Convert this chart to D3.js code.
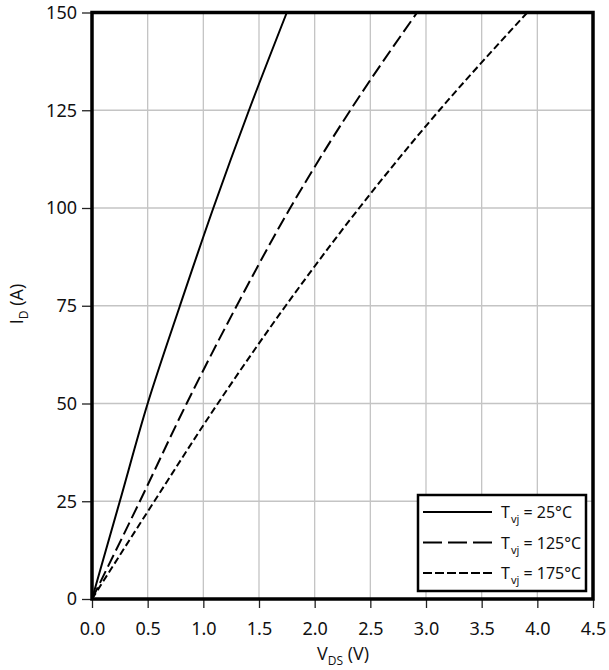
<!DOCTYPE html>
<html><head><meta charset="utf-8">
<script src="https://cdn.jsdelivr.net/npm/d3@7"></script>
<style>body{margin:0;background:#fff}text{font-family:"Open Sans","Noto Sans",sans-serif;fill:#111}</style>
</head><body><svg id="c" width="609" height="670"></svg>
<script>
const xTicks = [0,0.5,1,1.5,2,2.5,3,3.5,4,4.5];
const xTickLabels = ["0.0","0.5","1.0","1.5","2.0","2.5","3.0","3.5","4.0","4.5"];
const yTicks = [0,25,50,75,100,125,150];
const seriesNames = ["25°C","125°C","175°C"];
const current = [0,25,50,75,100,125,150];
const vds25 = [0,0.25,0.5,0.79,1.09,1.41,1.75];
const vds125 = [0,0.43,0.85,1.30,1.78,2.32,2.92];
const vds175 = [0,0.56,1.13,1.74,2.40,3.12,3.91];
const dashes = ["none","13,5","7,3.5"];
const legendDashes = ["none","19,6","9,3"];

const svg = d3.select("#c");
const L=92,R=593,T=12.5,B=599;
const x = d3.scaleLinear().domain([0,4.5]).range([L,R]);
const y = d3.scaleLinear().domain([0,150]).range([B,T]);

// grid
svg.append("g").selectAll("line").data(xTicks.slice(1,-1)).join("line")
  .attr("x1",d=>x(d)).attr("x2",d=>x(d)).attr("y1",T).attr("y2",B)
  .attr("stroke","#c4c4c4").attr("stroke-width",1.3);
svg.append("g").selectAll("line").data(yTicks.slice(1,-1)).join("line")
  .attr("y1",d=>y(d)).attr("y2",d=>y(d)).attr("x1",L).attr("x2",R)
  .attr("stroke","#c4c4c4").attr("stroke-width",1.3);

// axes
const xAxis = svg.append("g").attr("transform",`translate(0,${B})`)
  .call(d3.axisBottom(x).tickValues(xTicks).tickFormat((d,i)=>xTickLabels[i]).tickSize(9).tickPadding(14));
const yAxis = svg.append("g").attr("transform",`translate(${L},0)`)
  .call(d3.axisLeft(y).tickValues(yTicks).tickSize(10).tickPadding(5));
[xAxis,yAxis].forEach(a=>{
  a.select(".domain").remove();
  a.selectAll(".tick line").attr("stroke","#222").attr("stroke-width",1.3);
  a.selectAll(".tick text").attr("font-size",18).attr("fill","#111").style("font-family","Noto Sans");
});

// curves
const series=[vds25,vds125,vds175];
const line = d3.line().x(d=>x(d[0])).y(d=>y(d[1])).curve(d3.curveMonotoneY);
series.forEach((s,i)=>{
  svg.append("path").datum(s.map((v,j)=>[v,current[j]]))
    .attr("d",line).attr("fill","none").attr("stroke","#000").attr("stroke-width",2)
    .attr("stroke-dasharray",dashes[i]);
});

// frame
svg.append("rect").attr("x",L).attr("y",T).attr("width",R-L).attr("height",B-T)
  .attr("fill","none").attr("stroke","#000").attr("stroke-width",3.5);

// legend
const lg = svg.append("g");
lg.append("rect").attr("x",418).attr("y",495).attr("width",168).attr("height",96)
  .attr("fill","#fff").attr("stroke","#000").attr("stroke-width",2.5);
seriesNames.forEach((n,i)=>{
  const yy=512+i*30.5;
  lg.append("line").attr("x1",423).attr("x2",492).attr("y1",yy).attr("y2",yy)
    .attr("stroke","#000").attr("stroke-width",2).attr("stroke-dasharray",legendDashes[i]);
  const t=lg.append("text").attr("x",501).attr("y",yy+6).attr("font-size",16).style("font-family","Noto Sans");
  t.append("tspan").text("T");
  t.append("tspan").attr("font-size",11).attr("dy",5).attr("dx",1).text("vj");
  t.append("tspan").attr("dy",-5).text(" = "+n);
});

// axis labels
const xl = svg.append("text").attr("x",343).attr("y",660).attr("text-anchor","middle").attr("font-size",18);
xl.append("tspan").text("V");
xl.append("tspan").attr("font-size",12).attr("dy",5).text("DS");
xl.append("tspan").attr("dy",-5).text(" (V)");
const yl = svg.append("text").attr("transform","translate(23,304) rotate(-90)").attr("text-anchor","middle").attr("font-size",18);
yl.append("tspan").text("I");
yl.append("tspan").attr("font-size",12).attr("dy",5).text("D");
yl.append("tspan").attr("dy",-5).text(" (A)");
</script></body></html>
